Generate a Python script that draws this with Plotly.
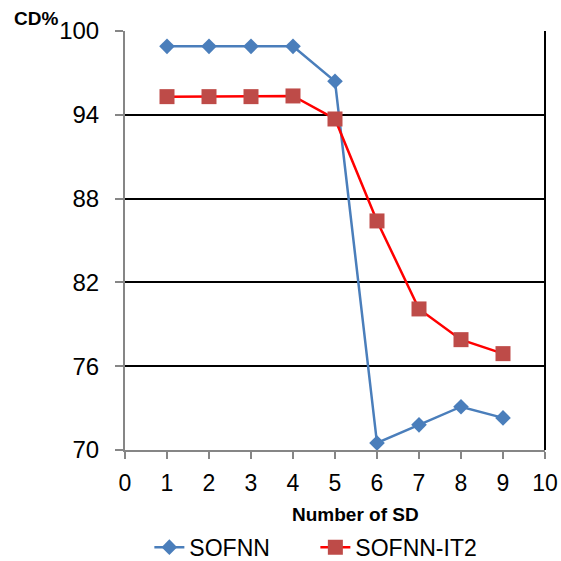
import plotly.graph_objects as go

x_sd = [1, 2, 3, 4, 5, 6, 7, 8, 9]
sofnn = [98.9, 98.9, 98.9, 98.9, 96.4, 70.5, 71.8, 73.1, 72.3]
sofnn_it2 = [95.3, 95.3, 95.3, 95.35, 93.7, 86.4, 80.1, 77.9, 76.9]
y_ticks = [70, 76, 82, 88, 94, 100]
x_ticks = list(range(0, 11))

font = "Liberation Sans, Arial, sans-serif"

fig = go.Figure()
fig.add_trace(go.Scatter(
    x=x_sd, y=sofnn, name="SOFNN", mode="lines+markers",
    line=dict(color="#4A7EBB", width=2.5),
    marker=dict(symbol="diamond", size=12, color="#4A7EBB"),
))
fig.add_trace(go.Scatter(
    x=x_sd, y=sofnn_it2, name="SOFNN-IT2", mode="lines+markers",
    line=dict(color="#FF0000", width=2.5),
    marker=dict(symbol="square", size=15, color="#BE4B48"),
))

fig.update_layout(
    width=561, height=561,
    margin=dict(l=125, r=16, t=31, b=111, autoexpand=False),
    paper_bgcolor="white", plot_bgcolor="white",
    font=dict(family=font, color="black"),
    showlegend=True,
    legend=dict(orientation="h", x=0.058, xanchor="left", y=-0.232, yanchor="middle",
                font=dict(size=23, family=font), entrywidth=121, entrywidthmode="pixels",
                tracegroupgap=0, traceorder="normal"),
    xaxis=dict(
        range=[0, 10], tickvals=x_ticks, ticks="outside", ticklen=7,
        tickcolor="#868686", tickwidth=2, showline=True, linecolor="#868686", linewidth=2,
        showgrid=False, zeroline=False, tickfont=dict(size=23), ticklabelstandoff=4,
        automargin=False,
    ),
    yaxis=dict(
        range=[70, 100], tickvals=y_ticks, ticks="outside", ticklen=8,
        tickcolor="#868686", tickwidth=2, showline=True, linecolor="#868686", linewidth=2,
        showgrid=True, gridcolor="black", gridwidth=1.5, zeroline=False,
        tickfont=dict(size=24), ticklabelstandoff=11, automargin=False,
    ),
    shapes=[dict(type="line", xref="paper", yref="paper", x0=1, x1=1, y0=0, y1=1,
                 line=dict(color="black", width=2))],
    annotations=[
        dict(text="<b>CD%</b>", xref="paper", yref="paper", x=-0.212, y=1.031,
             xanchor="center", yanchor="middle", showarrow=False,
             font=dict(size=19, family=font)),
        dict(text="<b>Number of SD</b>", xref="paper", yref="paper", x=0.548, y=-0.155,
             xanchor="center", yanchor="middle", showarrow=False,
             font=dict(size=19, family=font)),
    ],
)

fig.write_html("out.html")
